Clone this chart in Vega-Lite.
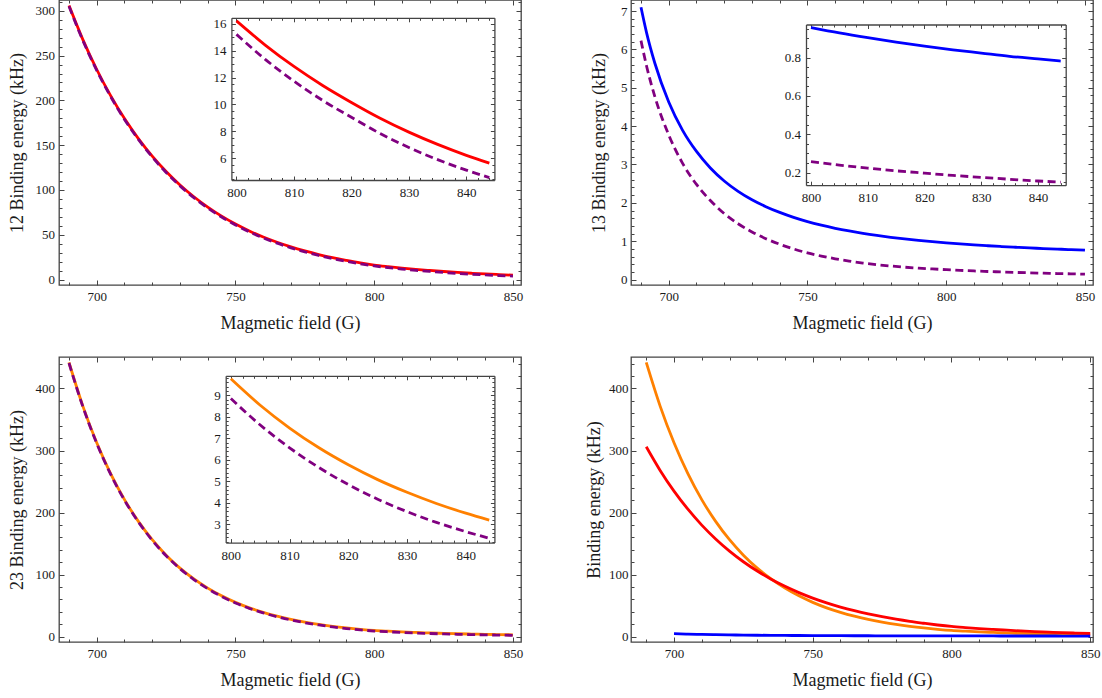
{
  "$schema": "https://vega.github.io/schema/vega-lite/v6.json",
  "background": "white",
  "padding": {"left": 7, "top": -2, "right": 2, "bottom": 2},
  "columns": 2,
  "bounds": "flush",
  "spacing": {"row": 72, "column": 110},
  "config": {
    "view": {"stroke": "#444", "strokeWidth": 1.3},
    "axis": {"domain": false, "grid": false, "labelFont": "Liberation Serif", "labelFontSize": 13, "labelColor": "#1a1a1a", "titleFont": "Liberation Serif", "titleFontSize": 18, "titleFontWeight": "normal", "titleColor": "#1a1a1a", "tickColor": "#444", "tickWidth": 1, "labelFlush": false, "labelOverlap": false, "labelBound": false, "domainColor": "#444", "domainWidth": 1.3}
  },
  "datasets": {
    "p1": [
      {"B": 690, "solid": 306, "dashed": 305},
      {"B": 695, "solid": 267.9, "dashed": 266.9},
      {"B": 700, "solid": 234.5, "dashed": 233.5},
      {"B": 705, "solid": 205.3, "dashed": 204.3},
      {"B": 710, "solid": 179.7, "dashed": 178.7},
      {"B": 715, "solid": 157.4, "dashed": 156.4},
      {"B": 720, "solid": 137.8, "dashed": 136.8},
      {"B": 725, "solid": 120.6, "dashed": 119.6},
      {"B": 730, "solid": 105.6, "dashed": 104.6},
      {"B": 735, "solid": 92.4, "dashed": 91.4},
      {"B": 740, "solid": 80.9, "dashed": 79.9},
      {"B": 745, "solid": 70.8, "dashed": 69.8},
      {"B": 750, "solid": 62.0, "dashed": 61.0},
      {"B": 755, "solid": 54.3, "dashed": 53.3},
      {"B": 760, "solid": 47.5, "dashed": 46.5},
      {"B": 765, "solid": 41.6, "dashed": 40.6},
      {"B": 770, "solid": 36.4, "dashed": 35.4},
      {"B": 775, "solid": 31.9, "dashed": 30.9},
      {"B": 780, "solid": 27.9, "dashed": 26.9},
      {"B": 785, "solid": 24.4, "dashed": 23.4},
      {"B": 790, "solid": 21.4, "dashed": 20.4},
      {"B": 795, "solid": 18.6, "dashed": 17.6},
      {"B": 800, "solid": 16.2, "dashed": 15.2},
      {"B": 805, "solid": 14.41, "dashed": 13.35},
      {"B": 810, "solid": 12.82, "dashed": 11.73},
      {"B": 815, "solid": 11.41, "dashed": 10.3},
      {"B": 820, "solid": 10.15, "dashed": 9.05},
      {"B": 825, "solid": 8.98, "dashed": 7.85},
      {"B": 830, "solid": 7.95, "dashed": 6.81},
      {"B": 835, "solid": 7.04, "dashed": 5.91},
      {"B": 840, "solid": 6.23, "dashed": 5.13},
      {"B": 844, "solid": 5.65, "dashed": 4.58},
      {"B": 845, "solid": 5.51, "dashed": 4.45},
      {"B": 850, "solid": 4.88, "dashed": 3.86}
    ],
    "p2": [
      {"B": 690, "solid": 7.1, "dashed": 6.23},
      {"B": 692, "solid": 6.44, "dashed": 5.57},
      {"B": 695, "solid": 5.64, "dashed": 4.77},
      {"B": 700, "solid": 4.63, "dashed": 3.77},
      {"B": 705, "solid": 3.89, "dashed": 3.03},
      {"B": 710, "solid": 3.34, "dashed": 2.48},
      {"B": 715, "solid": 2.91, "dashed": 2.06},
      {"B": 720, "solid": 2.57, "dashed": 1.72},
      {"B": 725, "solid": 2.30, "dashed": 1.455},
      {"B": 730, "solid": 2.08, "dashed": 1.24},
      {"B": 735, "solid": 1.90, "dashed": 1.065},
      {"B": 740, "solid": 1.75, "dashed": 0.92},
      {"B": 745, "solid": 1.62, "dashed": 0.798},
      {"B": 750, "solid": 1.51, "dashed": 0.695},
      {"B": 755, "solid": 1.417, "dashed": 0.612},
      {"B": 760, "solid": 1.336, "dashed": 0.541},
      {"B": 765, "solid": 1.266, "dashed": 0.481},
      {"B": 770, "solid": 1.204, "dashed": 0.429},
      {"B": 775, "solid": 1.15, "dashed": 0.387},
      {"B": 780, "solid": 1.102, "dashed": 0.352},
      {"B": 785, "solid": 1.06, "dashed": 0.322},
      {"B": 790, "solid": 1.022, "dashed": 0.297},
      {"B": 795, "solid": 0.988, "dashed": 0.276},
      {"B": 800, "solid": 0.957, "dashed": 0.257},
      {"B": 805, "solid": 0.929, "dashed": 0.239},
      {"B": 810, "solid": 0.904, "dashed": 0.223},
      {"B": 815, "solid": 0.881, "dashed": 0.209},
      {"B": 820, "solid": 0.86, "dashed": 0.197},
      {"B": 825, "solid": 0.841, "dashed": 0.185},
      {"B": 830, "solid": 0.824, "dashed": 0.175},
      {"B": 835, "solid": 0.807, "dashed": 0.165},
      {"B": 840, "solid": 0.793, "dashed": 0.156},
      {"B": 844, "solid": 0.782, "dashed": 0.15},
      {"B": 845, "solid": 0.779, "dashed": 0.148},
      {"B": 850, "solid": 0.766, "dashed": 0.141}
    ],
    "p3": [
      {"B": 690, "solid": 442, "dashed": 441.1},
      {"B": 695, "solid": 371.6, "dashed": 370.7},
      {"B": 700, "solid": 312.4, "dashed": 311.5},
      {"B": 705, "solid": 262.7, "dashed": 261.8},
      {"B": 710, "solid": 220.8, "dashed": 219.9},
      {"B": 715, "solid": 185.7, "dashed": 184.8},
      {"B": 720, "solid": 156.1, "dashed": 155.2},
      {"B": 725, "solid": 131.2, "dashed": 130.3},
      {"B": 730, "solid": 110.3, "dashed": 109.4},
      {"B": 735, "solid": 92.8, "dashed": 91.9},
      {"B": 740, "solid": 78.0, "dashed": 77.1},
      {"B": 745, "solid": 65.6, "dashed": 64.7},
      {"B": 750, "solid": 55.1, "dashed": 54.2},
      {"B": 755, "solid": 46.3, "dashed": 45.4},
      {"B": 760, "solid": 39.0, "dashed": 38.1},
      {"B": 765, "solid": 32.8, "dashed": 31.9},
      {"B": 770, "solid": 27.5, "dashed": 26.6},
      {"B": 775, "solid": 23.2, "dashed": 22.3},
      {"B": 780, "solid": 19.5, "dashed": 18.6},
      {"B": 785, "solid": 16.4, "dashed": 15.5},
      {"B": 790, "solid": 13.8, "dashed": 12.9},
      {"B": 795, "solid": 11.6, "dashed": 10.7},
      {"B": 800, "solid": 9.77, "dashed": 8.85},
      {"B": 805, "solid": 8.54, "dashed": 7.62},
      {"B": 810, "solid": 7.48, "dashed": 6.56},
      {"B": 815, "solid": 6.56, "dashed": 5.64},
      {"B": 820, "solid": 5.77, "dashed": 4.85},
      {"B": 825, "solid": 5.08, "dashed": 4.17},
      {"B": 830, "solid": 4.49, "dashed": 3.59},
      {"B": 835, "solid": 3.97, "dashed": 3.09},
      {"B": 840, "solid": 3.52, "dashed": 2.66},
      {"B": 844, "solid": 3.2, "dashed": 2.35},
      {"B": 845, "solid": 3.12, "dashed": 2.28},
      {"B": 850, "solid": 2.78, "dashed": 1.95}
    ]
  },
  "concat": [
    {
      "width": 462, "height": 285,
      "resolve": {"scale": {"x": "independent", "y": "independent"}, "axis": {"x": "independent", "y": "independent"}},
      "layer": [
        {"data": {"name": "p1"},
         "mark": {"type": "line", "color": "#ff0000", "strokeWidth": 2.8, "interpolate": "monotone"},
         "encoding": {
           "x": {"field": "B", "type": "quantitative", "scale": {"domain": [686.4, 852.9], "nice": false, "zero": false},
                 "axis": {"orient": "bottom", "values": [700, 750, 800, 850], "tickSize": -5, "labelPadding": 10, "format": "d", "title": "Magmetic field (G)", "titlePadding": 11}},
           "y": {"field": "solid", "type": "quantitative", "scale": {"domain": [-6.1, 312.1], "nice": false, "zero": false},
                 "axis": {"orient": "left", "values": [0, 50, 100, 150, 200, 250, 300], "tickSize": -5, "labelPadding": 9.5, "format": "d", "title": "12 Binding  energy (kHz)", "titlePadding": 9}}}},
        {"data": {"name": "p1"},
         "mark": {"type": "line", "color": "#800080", "strokeWidth": 2.8, "strokeDash": [8, 4.5], "strokeCap": "butt", "interpolate": "monotone"},
         "encoding": {
           "x": {"field": "B", "type": "quantitative", "scale": {"domain": [686.4, 852.9], "nice": false, "zero": false},
                 "axis": {"orient": "top", "values": [700, 750, 800, 850], "tickSize": -5, "labels": false, "title": null}},
           "y": {"field": "dashed", "type": "quantitative", "scale": {"domain": [-6.1, 312.1], "nice": false, "zero": false},
                 "axis": {"orient": "right", "values": [0, 50, 100, 150, 200, 250, 300], "tickSize": -5, "labels": false, "title": null}}}},
        {"data": {"name": "p1"}, "transform": [{"filter": "false"}],
         "mark": {"type": "line"},
         "encoding": {
           "x": {"field": "B", "type": "quantitative", "scale": {"domain": [686.4, 852.9], "nice": false, "zero": false},
                 "axis": {"orient": "bottom", "values": [690, 710, 720, 730, 740, 760, 770, 780, 790, 810, 820, 830, 840], "tickSize": -3, "labels": false, "title": null}},
           "y": {"field": "solid", "type": "quantitative", "scale": {"domain": [-6.1, 312.1], "nice": false, "zero": false},
                 "axis": {"orient": "left", "values": [10, 20, 30, 40, 60, 70, 80, 90, 110, 120, 130, 140, 160, 170, 180, 190, 210, 220, 230, 240, 260, 270, 280, 290, 310], "tickSize": -3, "labels": false, "title": null}}}},
        {"data": {"name": "p1"}, "transform": [{"filter": "false"}],
         "mark": {"type": "line"},
         "encoding": {
           "x": {"field": "B", "type": "quantitative", "scale": {"domain": [686.4, 852.9], "nice": false, "zero": false},
                 "axis": {"orient": "top", "values": [690, 710, 720, 730, 740, 760, 770, 780, 790, 810, 820, 830, 840], "tickSize": -3, "labels": false, "title": null}},
           "y": {"field": "solid", "type": "quantitative", "scale": {"domain": [-6.1, 312.1], "nice": false, "zero": false},
                 "axis": {"orient": "right", "values": [10, 20, 30, 40, 60, 70, 80, 90, 110, 120, 130, 140, 160, 170, 180, 190, 210, 220, 230, 240, 260, 270, 280, 290, 310], "tickSize": -3, "labels": false, "title": null}}}},
        {"data": {"name": "p1"}, "transform": [{"filter": "datum.B >= 800 && datum.B <= 844"}],
         "mark": {"type": "line", "color": "#ff0000", "strokeWidth": 2.8, "interpolate": "monotone"},
         "encoding": {
           "x": {"field": "B", "type": "quantitative", "scale": {"domain": [799.12, 844.88], "range": [172.4, 435.4], "nice": false, "zero": false},
                 "axis": {"orient": "bottom", "offset": -105, "domain": true, "values": [800, 810, 820, 830, 840], "tickSize": -4, "labelPadding": 10.5, "format": "d", "title": null}},
           "y": {"field": "solid", "type": "quantitative", "scale": {"domain": [4.4, 16.43], "range": [180, 17.8], "nice": false, "zero": false},
                 "axis": {"orient": "left", "offset": -172.4, "domain": true, "values": [6, 8, 10, 12, 14, 16], "tickSize": -4, "labelPadding": 9.5, "format": "d", "title": null}}}},
        {"data": {"name": "p1"}, "transform": [{"filter": "datum.B >= 800 && datum.B <= 844"}],
         "mark": {"type": "line", "color": "#800080", "strokeWidth": 2.8, "strokeDash": [8, 4.5], "strokeCap": "butt", "interpolate": "monotone"},
         "encoding": {
           "x": {"field": "B", "type": "quantitative", "scale": {"domain": [799.12, 844.88], "range": [172.4, 435.4], "nice": false, "zero": false},
                 "axis": {"orient": "top", "offset": -17.8, "domain": true, "values": [800, 810, 820, 830, 840], "tickSize": -4, "labels": false, "title": null}},
           "y": {"field": "dashed", "type": "quantitative", "scale": {"domain": [4.4, 16.43], "range": [180, 17.8], "nice": false, "zero": false},
                 "axis": {"orient": "right", "offset": -26.6, "domain": true, "values": [6, 8, 10, 12, 14, 16], "tickSize": -4, "labels": false, "title": null}}}},
        {"data": {"name": "p1"}, "transform": [{"filter": "false"}],
         "mark": {"type": "line"},
         "encoding": {
           "x": {"field": "B", "type": "quantitative", "scale": {"domain": [799.12, 844.88], "range": [172.4, 435.4], "nice": false, "zero": false},
                 "axis": {"orient": "bottom", "offset": -105, "values": [802, 804, 806, 808, 812, 814, 816, 818, 822, 824, 826, 828, 832, 834, 836, 838, 842, 844], "tickSize": -2.5, "labels": false, "title": null}},
           "y": {"field": "solid", "type": "quantitative", "scale": {"domain": [4.4, 16.43], "range": [180, 17.8], "nice": false, "zero": false},
                 "axis": {"orient": "left", "offset": -172.4, "values": [4.5, 5, 5.5, 6.5, 7, 7.5, 8.5, 9, 9.5, 10.5, 11, 11.5, 12.5, 13, 13.5, 14.5, 15, 15.5], "tickSize": -2.5, "labels": false, "title": null}}}},
        {"data": {"name": "p1"}, "transform": [{"filter": "false"}],
         "mark": {"type": "line"},
         "encoding": {
           "x": {"field": "B", "type": "quantitative", "scale": {"domain": [799.12, 844.88], "range": [172.4, 435.4], "nice": false, "zero": false},
                 "axis": {"orient": "top", "offset": -17.8, "values": [802, 804, 806, 808, 812, 814, 816, 818, 822, 824, 826, 828, 832, 834, 836, 838, 842, 844], "tickSize": -2.5, "labels": false, "title": null}},
           "y": {"field": "solid", "type": "quantitative", "scale": {"domain": [4.4, 16.43], "range": [180, 17.8], "nice": false, "zero": false},
                 "axis": {"orient": "right", "offset": -26.6, "values": [4.5, 5, 5.5, 6.5, 7, 7.5, 8.5, 9, 9.5, 10.5, 11, 11.5, 12.5, 13, 13.5, 14.5, 15, 15.5], "tickSize": -2.5, "labels": false, "title": null}}}}
      ]
    },
    {
      "width": 462, "height": 285,
      "resolve": {"scale": {"x": "independent", "y": "independent"}, "axis": {"x": "independent", "y": "independent"}},
      "layer": [
        {"data": {"name": "p2"},
         "mark": {"type": "line", "color": "#0000ff", "strokeWidth": 2.8, "interpolate": "monotone"},
         "encoding": {
           "x": {"field": "B", "type": "quantitative", "scale": {"domain": [686.4, 852.9], "nice": false, "zero": false},
                 "axis": {"orient": "bottom", "values": [700, 750, 800, 850], "tickSize": -5, "labelPadding": 10, "format": "d", "title": "Magmetic field (G)", "titlePadding": 11}},
           "y": {"field": "solid", "type": "quantitative", "scale": {"domain": [-0.143, 7.29], "nice": false, "zero": false},
                 "axis": {"orient": "left", "values": [0, 1, 2, 3, 4, 5, 6, 7], "tickSize": -5, "labelPadding": 9, "format": "d", "title": "13 Binding  energy (kHz)", "titlePadding": 12}}}},
        {"data": {"name": "p2"},
         "mark": {"type": "line", "color": "#800080", "strokeWidth": 2.8, "strokeDash": [8, 4.5], "strokeCap": "butt", "interpolate": "monotone"},
         "encoding": {
           "x": {"field": "B", "type": "quantitative", "scale": {"domain": [686.4, 852.9], "nice": false, "zero": false},
                 "axis": {"orient": "top", "values": [700, 750, 800, 850], "tickSize": -5, "labels": false, "title": null}},
           "y": {"field": "dashed", "type": "quantitative", "scale": {"domain": [-0.143, 7.29], "nice": false, "zero": false},
                 "axis": {"orient": "right", "values": [0, 1, 2, 3, 4, 5, 6, 7], "tickSize": -5, "labels": false, "title": null}}}},
        {"data": {"name": "p2"}, "transform": [{"filter": "false"}],
         "mark": {"type": "line"},
         "encoding": {
           "x": {"field": "B", "type": "quantitative", "scale": {"domain": [686.4, 852.9], "nice": false, "zero": false},
                 "axis": {"orient": "bottom", "values": [690, 710, 720, 730, 740, 760, 770, 780, 790, 810, 820, 830, 840], "tickSize": -3, "labels": false, "title": null}},
           "y": {"field": "solid", "type": "quantitative", "scale": {"domain": [-0.143, 7.29], "nice": false, "zero": false},
                 "axis": {"orient": "left", "values": [0.2, 0.4, 0.6, 0.8, 1.2, 1.4, 1.6, 1.8, 2.2, 2.4, 2.6, 2.8, 3.2, 3.4, 3.6, 3.8, 4.2, 4.4, 4.6, 4.8, 5.2, 5.4, 5.6, 5.8, 6.2, 6.4, 6.6, 6.8, 7.2], "tickSize": -3, "labels": false, "title": null}}}},
        {"data": {"name": "p2"}, "transform": [{"filter": "false"}],
         "mark": {"type": "line"},
         "encoding": {
           "x": {"field": "B", "type": "quantitative", "scale": {"domain": [686.4, 852.9], "nice": false, "zero": false},
                 "axis": {"orient": "top", "values": [690, 710, 720, 730, 740, 760, 770, 780, 790, 810, 820, 830, 840], "tickSize": -3, "labels": false, "title": null}},
           "y": {"field": "solid", "type": "quantitative", "scale": {"domain": [-0.143, 7.29], "nice": false, "zero": false},
                 "axis": {"orient": "right", "values": [0.2, 0.4, 0.6, 0.8, 1.2, 1.4, 1.6, 1.8, 2.2, 2.4, 2.6, 2.8, 3.2, 3.4, 3.6, 3.8, 4.2, 4.4, 4.6, 4.8, 5.2, 5.4, 5.6, 5.8, 6.2, 6.4, 6.6, 6.8, 7.2], "tickSize": -3, "labels": false, "title": null}}}},
        {"data": {"name": "p2"}, "transform": [{"filter": "datum.B >= 800 && datum.B <= 844"}],
         "mark": {"type": "line", "color": "#0000ff", "strokeWidth": 2.8, "interpolate": "monotone"},
         "encoding": {
           "x": {"field": "B", "type": "quantitative", "scale": {"domain": [799.12, 844.88], "range": [175, 434.7], "nice": false, "zero": false},
                 "axis": {"orient": "bottom", "offset": -99.8, "domain": true, "values": [800, 810, 820, 830, 840], "tickSize": -4, "labelPadding": 10.5, "format": "d", "title": null}},
           "y": {"field": "solid", "type": "quantitative", "scale": {"domain": [0.134, 0.973], "range": [185.2, 24.5], "nice": false, "zero": false},
                 "axis": {"orient": "left", "offset": -175, "domain": true, "values": [0.2, 0.4, 0.6, 0.8], "tickSize": -4, "labelPadding": 9.5, "format": ".1f", "title": null}}}},
        {"data": {"name": "p2"}, "transform": [{"filter": "datum.B >= 800 && datum.B <= 844"}],
         "mark": {"type": "line", "color": "#800080", "strokeWidth": 2.8, "strokeDash": [8, 4.5], "strokeCap": "butt", "interpolate": "monotone"},
         "encoding": {
           "x": {"field": "B", "type": "quantitative", "scale": {"domain": [799.12, 844.88], "range": [175, 434.7], "nice": false, "zero": false},
                 "axis": {"orient": "top", "offset": -24.5, "domain": true, "values": [800, 810, 820, 830, 840], "tickSize": -4, "labels": false, "title": null}},
           "y": {"field": "dashed", "type": "quantitative", "scale": {"domain": [0.134, 0.973], "range": [185.2, 24.5], "nice": false, "zero": false},
                 "axis": {"orient": "right", "offset": -27.3, "domain": true, "values": [0.2, 0.4, 0.6, 0.8], "tickSize": -4, "labels": false, "title": null}}}},
        {"data": {"name": "p2"}, "transform": [{"filter": "false"}],
         "mark": {"type": "line"},
         "encoding": {
           "x": {"field": "B", "type": "quantitative", "scale": {"domain": [799.12, 844.88], "range": [175, 434.7], "nice": false, "zero": false},
                 "axis": {"orient": "bottom", "offset": -99.8, "values": [802, 804, 806, 808, 812, 814, 816, 818, 822, 824, 826, 828, 832, 834, 836, 838, 842, 844], "tickSize": -2.5, "labels": false, "title": null}},
           "y": {"field": "solid", "type": "quantitative", "scale": {"domain": [0.134, 0.973], "range": [185.2, 24.5], "nice": false, "zero": false},
                 "axis": {"orient": "left", "offset": -175, "values": [0.15, 0.25, 0.3, 0.35, 0.45, 0.5, 0.55, 0.65, 0.7, 0.75, 0.85, 0.9, 0.95], "tickSize": -2.5, "labels": false, "title": null}}}},
        {"data": {"name": "p2"}, "transform": [{"filter": "false"}],
         "mark": {"type": "line"},
         "encoding": {
           "x": {"field": "B", "type": "quantitative", "scale": {"domain": [799.12, 844.88], "range": [175, 434.7], "nice": false, "zero": false},
                 "axis": {"orient": "top", "offset": -24.5, "values": [802, 804, 806, 808, 812, 814, 816, 818, 822, 824, 826, 828, 832, 834, 836, 838, 842, 844], "tickSize": -2.5, "labels": false, "title": null}},
           "y": {"field": "solid", "type": "quantitative", "scale": {"domain": [0.134, 0.973], "range": [185.2, 24.5], "nice": false, "zero": false},
                 "axis": {"orient": "right", "offset": -27.3, "values": [0.15, 0.25, 0.3, 0.35, 0.45, 0.5, 0.55, 0.65, 0.7, 0.75, 0.85, 0.9, 0.95], "tickSize": -2.5, "labels": false, "title": null}}}}
      ]
    },
    {
      "width": 462, "height": 285,
      "resolve": {"scale": {"x": "independent", "y": "independent"}, "axis": {"x": "independent", "y": "independent"}},
      "layer": [
        {"data": {"name": "p3"},
         "mark": {"type": "line", "color": "#ff8000", "strokeWidth": 2.8, "interpolate": "monotone"},
         "encoding": {
           "x": {"field": "B", "type": "quantitative", "scale": {"domain": [686.4, 852.9], "nice": false, "zero": false},
                 "axis": {"orient": "bottom", "values": [700, 750, 800, 850], "tickSize": -5, "labelPadding": 10, "format": "d", "title": "Magmetic field (G)", "titlePadding": 11}},
           "y": {"field": "solid", "type": "quantitative", "scale": {"domain": [-8.84, 450.8], "nice": false, "zero": false},
                 "axis": {"orient": "left", "values": [0, 100, 200, 300, 400], "tickSize": -5, "labelPadding": 9.5, "format": "d", "title": "23 Binding  energy (kHz)", "titlePadding": 9}}}},
        {"data": {"name": "p3"},
         "mark": {"type": "line", "color": "#800080", "strokeWidth": 2.8, "strokeDash": [8, 4.5], "strokeCap": "butt", "interpolate": "monotone"},
         "encoding": {
           "x": {"field": "B", "type": "quantitative", "scale": {"domain": [686.4, 852.9], "nice": false, "zero": false},
                 "axis": {"orient": "top", "values": [700, 750, 800, 850], "tickSize": -5, "labels": false, "title": null}},
           "y": {"field": "dashed", "type": "quantitative", "scale": {"domain": [-8.84, 450.8], "nice": false, "zero": false},
                 "axis": {"orient": "right", "values": [0, 100, 200, 300, 400], "tickSize": -5, "labels": false, "title": null}}}},
        {"data": {"name": "p3"}, "transform": [{"filter": "false"}],
         "mark": {"type": "line"},
         "encoding": {
           "x": {"field": "B", "type": "quantitative", "scale": {"domain": [686.4, 852.9], "nice": false, "zero": false},
                 "axis": {"orient": "bottom", "values": [690, 710, 720, 730, 740, 760, 770, 780, 790, 810, 820, 830, 840], "tickSize": -3, "labels": false, "title": null}},
           "y": {"field": "solid", "type": "quantitative", "scale": {"domain": [-8.84, 450.8], "nice": false, "zero": false},
                 "axis": {"orient": "left", "values": [20, 40, 60, 80, 120, 140, 160, 180, 220, 240, 260, 280, 320, 340, 360, 380, 420, 440], "tickSize": -3, "labels": false, "title": null}}}},
        {"data": {"name": "p3"}, "transform": [{"filter": "false"}],
         "mark": {"type": "line"},
         "encoding": {
           "x": {"field": "B", "type": "quantitative", "scale": {"domain": [686.4, 852.9], "nice": false, "zero": false},
                 "axis": {"orient": "top", "values": [690, 710, 720, 730, 740, 760, 770, 780, 790, 810, 820, 830, 840], "tickSize": -3, "labels": false, "title": null}},
           "y": {"field": "solid", "type": "quantitative", "scale": {"domain": [-8.84, 450.8], "nice": false, "zero": false},
                 "axis": {"orient": "right", "values": [20, 40, 60, 80, 120, 140, 160, 180, 220, 240, 260, 280, 320, 340, 360, 380, 420, 440], "tickSize": -3, "labels": false, "title": null}}}},
        {"data": {"name": "p3"}, "transform": [{"filter": "datum.B >= 800 && datum.B <= 844"}],
         "mark": {"type": "line", "color": "#ff8000", "strokeWidth": 2.8, "interpolate": "monotone"},
         "encoding": {
           "x": {"field": "B", "type": "quantitative", "scale": {"domain": [799.12, 844.88], "range": [166.7, 435.4], "nice": false, "zero": false},
                 "axis": {"orient": "bottom", "offset": -99.4, "domain": true, "values": [800, 810, 820, 830, 840], "tickSize": -4, "labelPadding": 10.5, "format": "d", "title": null}},
           "y": {"field": "solid", "type": "quantitative", "scale": {"domain": [2.15, 9.91], "range": [185.6, 18.8], "nice": false, "zero": false},
                 "axis": {"orient": "left", "offset": -166.7, "domain": true, "values": [3, 4, 5, 6, 7, 8, 9], "tickSize": -4, "labelPadding": 9.5, "format": "d", "title": null}}}},
        {"data": {"name": "p3"}, "transform": [{"filter": "datum.B >= 800 && datum.B <= 844"}],
         "mark": {"type": "line", "color": "#800080", "strokeWidth": 2.8, "strokeDash": [8, 4.5], "strokeCap": "butt", "interpolate": "monotone"},
         "encoding": {
           "x": {"field": "B", "type": "quantitative", "scale": {"domain": [799.12, 844.88], "range": [166.7, 435.4], "nice": false, "zero": false},
                 "axis": {"orient": "top", "offset": -18.8, "domain": true, "values": [800, 810, 820, 830, 840], "tickSize": -4, "labels": false, "title": null}},
           "y": {"field": "dashed", "type": "quantitative", "scale": {"domain": [2.15, 9.91], "range": [185.6, 18.8], "nice": false, "zero": false},
                 "axis": {"orient": "right", "offset": -26.6, "domain": true, "values": [3, 4, 5, 6, 7, 8, 9], "tickSize": -4, "labels": false, "title": null}}}},
        {"data": {"name": "p3"}, "transform": [{"filter": "false"}],
         "mark": {"type": "line"},
         "encoding": {
           "x": {"field": "B", "type": "quantitative", "scale": {"domain": [799.12, 844.88], "range": [166.7, 435.4], "nice": false, "zero": false},
                 "axis": {"orient": "bottom", "offset": -99.4, "values": [802, 804, 806, 808, 812, 814, 816, 818, 822, 824, 826, 828, 832, 834, 836, 838, 842, 844], "tickSize": -2.5, "labels": false, "title": null}},
           "y": {"field": "solid", "type": "quantitative", "scale": {"domain": [2.15, 9.91], "range": [185.6, 18.8], "nice": false, "zero": false},
                 "axis": {"orient": "left", "offset": -166.7, "values": [2.2, 2.4, 2.6, 2.8, 3.2, 3.4, 3.6, 3.8, 4.2, 4.4, 4.6, 4.8, 5.2, 5.4, 5.6, 5.8, 6.2, 6.4, 6.6, 6.8, 7.2, 7.4, 7.6, 7.8, 8.2, 8.4, 8.6, 8.8, 9.2, 9.4, 9.6, 9.8], "tickSize": -2.5, "labels": false, "title": null}}}},
        {"data": {"name": "p3"}, "transform": [{"filter": "false"}],
         "mark": {"type": "line"},
         "encoding": {
           "x": {"field": "B", "type": "quantitative", "scale": {"domain": [799.12, 844.88], "range": [166.7, 435.4], "nice": false, "zero": false},
                 "axis": {"orient": "top", "offset": -18.8, "values": [802, 804, 806, 808, 812, 814, 816, 818, 822, 824, 826, 828, 832, 834, 836, 838, 842, 844], "tickSize": -2.5, "labels": false, "title": null}},
           "y": {"field": "solid", "type": "quantitative", "scale": {"domain": [2.15, 9.91], "range": [185.6, 18.8], "nice": false, "zero": false},
                 "axis": {"orient": "right", "offset": -26.6, "values": [2.2, 2.4, 2.6, 2.8, 3.2, 3.4, 3.6, 3.8, 4.2, 4.4, 4.6, 4.8, 5.2, 5.4, 5.6, 5.8, 6.2, 6.4, 6.6, 6.8, 7.2, 7.4, 7.6, 7.8, 8.2, 8.4, 8.6, 8.8, 9.2, 9.4, 9.6, 9.8], "tickSize": -2.5, "labels": false, "title": null}}}}
      ]
    },
    {
      "width": 462, "height": 285,
      "resolve": {"scale": {"x": "independent", "y": "independent"}, "axis": {"x": "independent", "y": "independent"}},
      "layer": [
        {"data": {"name": "p3"},
         "mark": {"type": "line", "color": "#ff8000", "strokeWidth": 2.8, "interpolate": "monotone"},
         "encoding": {
           "x": {"field": "B", "type": "quantitative", "scale": {"domain": [684.5, 851.0], "nice": false, "zero": false},
                 "axis": {"orient": "bottom", "values": [700, 750, 800, 850], "tickSize": -5, "labelPadding": 10, "format": "d", "title": "Magmetic field (G)", "titlePadding": 11}},
           "y": {"field": "solid", "type": "quantitative", "scale": {"domain": [-8.84, 450.8], "nice": false, "zero": false},
                 "axis": {"orient": "left", "values": [0, 100, 200, 300, 400], "tickSize": -5, "labelPadding": 8, "format": "d", "title": "Binding  energy (kHz)", "titlePadding": 5}}}},
        {"data": {"name": "p1"},
         "mark": {"type": "line", "color": "#ff0000", "strokeWidth": 2.8, "interpolate": "monotone"},
         "encoding": {
           "x": {"field": "B", "type": "quantitative", "scale": {"domain": [684.5, 851.0], "nice": false, "zero": false},
                 "axis": {"orient": "top", "values": [700, 750, 800, 850], "tickSize": -5, "labels": false, "title": null}},
           "y": {"field": "solid", "type": "quantitative", "scale": {"domain": [-8.84, 450.8], "nice": false, "zero": false},
                 "axis": {"orient": "right", "values": [0, 100, 200, 300, 400], "tickSize": -5, "labels": false, "title": null}}}},
        {"data": {"name": "p2"}, "transform": [{"filter": "datum.B >= 700"}],
         "mark": {"type": "line", "color": "#0000ff", "strokeWidth": 2.8, "interpolate": "monotone"},
         "encoding": {
           "x": {"field": "B", "type": "quantitative", "scale": {"domain": [684.5, 851.0], "nice": false, "zero": false},
                 "axis": {"orient": "bottom", "values": [690, 710, 720, 730, 740, 760, 770, 780, 790, 810, 820, 830, 840], "tickSize": -3, "labels": false, "title": null}},
           "y": {"field": "solid", "type": "quantitative", "scale": {"domain": [-8.84, 450.8], "nice": false, "zero": false},
                 "axis": {"orient": "left", "values": [20, 40, 60, 80, 120, 140, 160, 180, 220, 240, 260, 280, 320, 340, 360, 380, 420, 440], "tickSize": -3, "labels": false, "title": null}}}},
        {"data": {"name": "p3"}, "transform": [{"filter": "false"}],
         "mark": {"type": "line"},
         "encoding": {
           "x": {"field": "B", "type": "quantitative", "scale": {"domain": [684.5, 851.0], "nice": false, "zero": false},
                 "axis": {"orient": "top", "values": [690, 710, 720, 730, 740, 760, 770, 780, 790, 810, 820, 830, 840], "tickSize": -3, "labels": false, "title": null}},
           "y": {"field": "solid", "type": "quantitative", "scale": {"domain": [-8.84, 450.8], "nice": false, "zero": false},
                 "axis": {"orient": "right", "values": [20, 40, 60, 80, 120, 140, 160, 180, 220, 240, 260, 280, 320, 340, 360, 380, 420, 440], "tickSize": -3, "labels": false, "title": null}}}}
      ]
    }
  ]
}
